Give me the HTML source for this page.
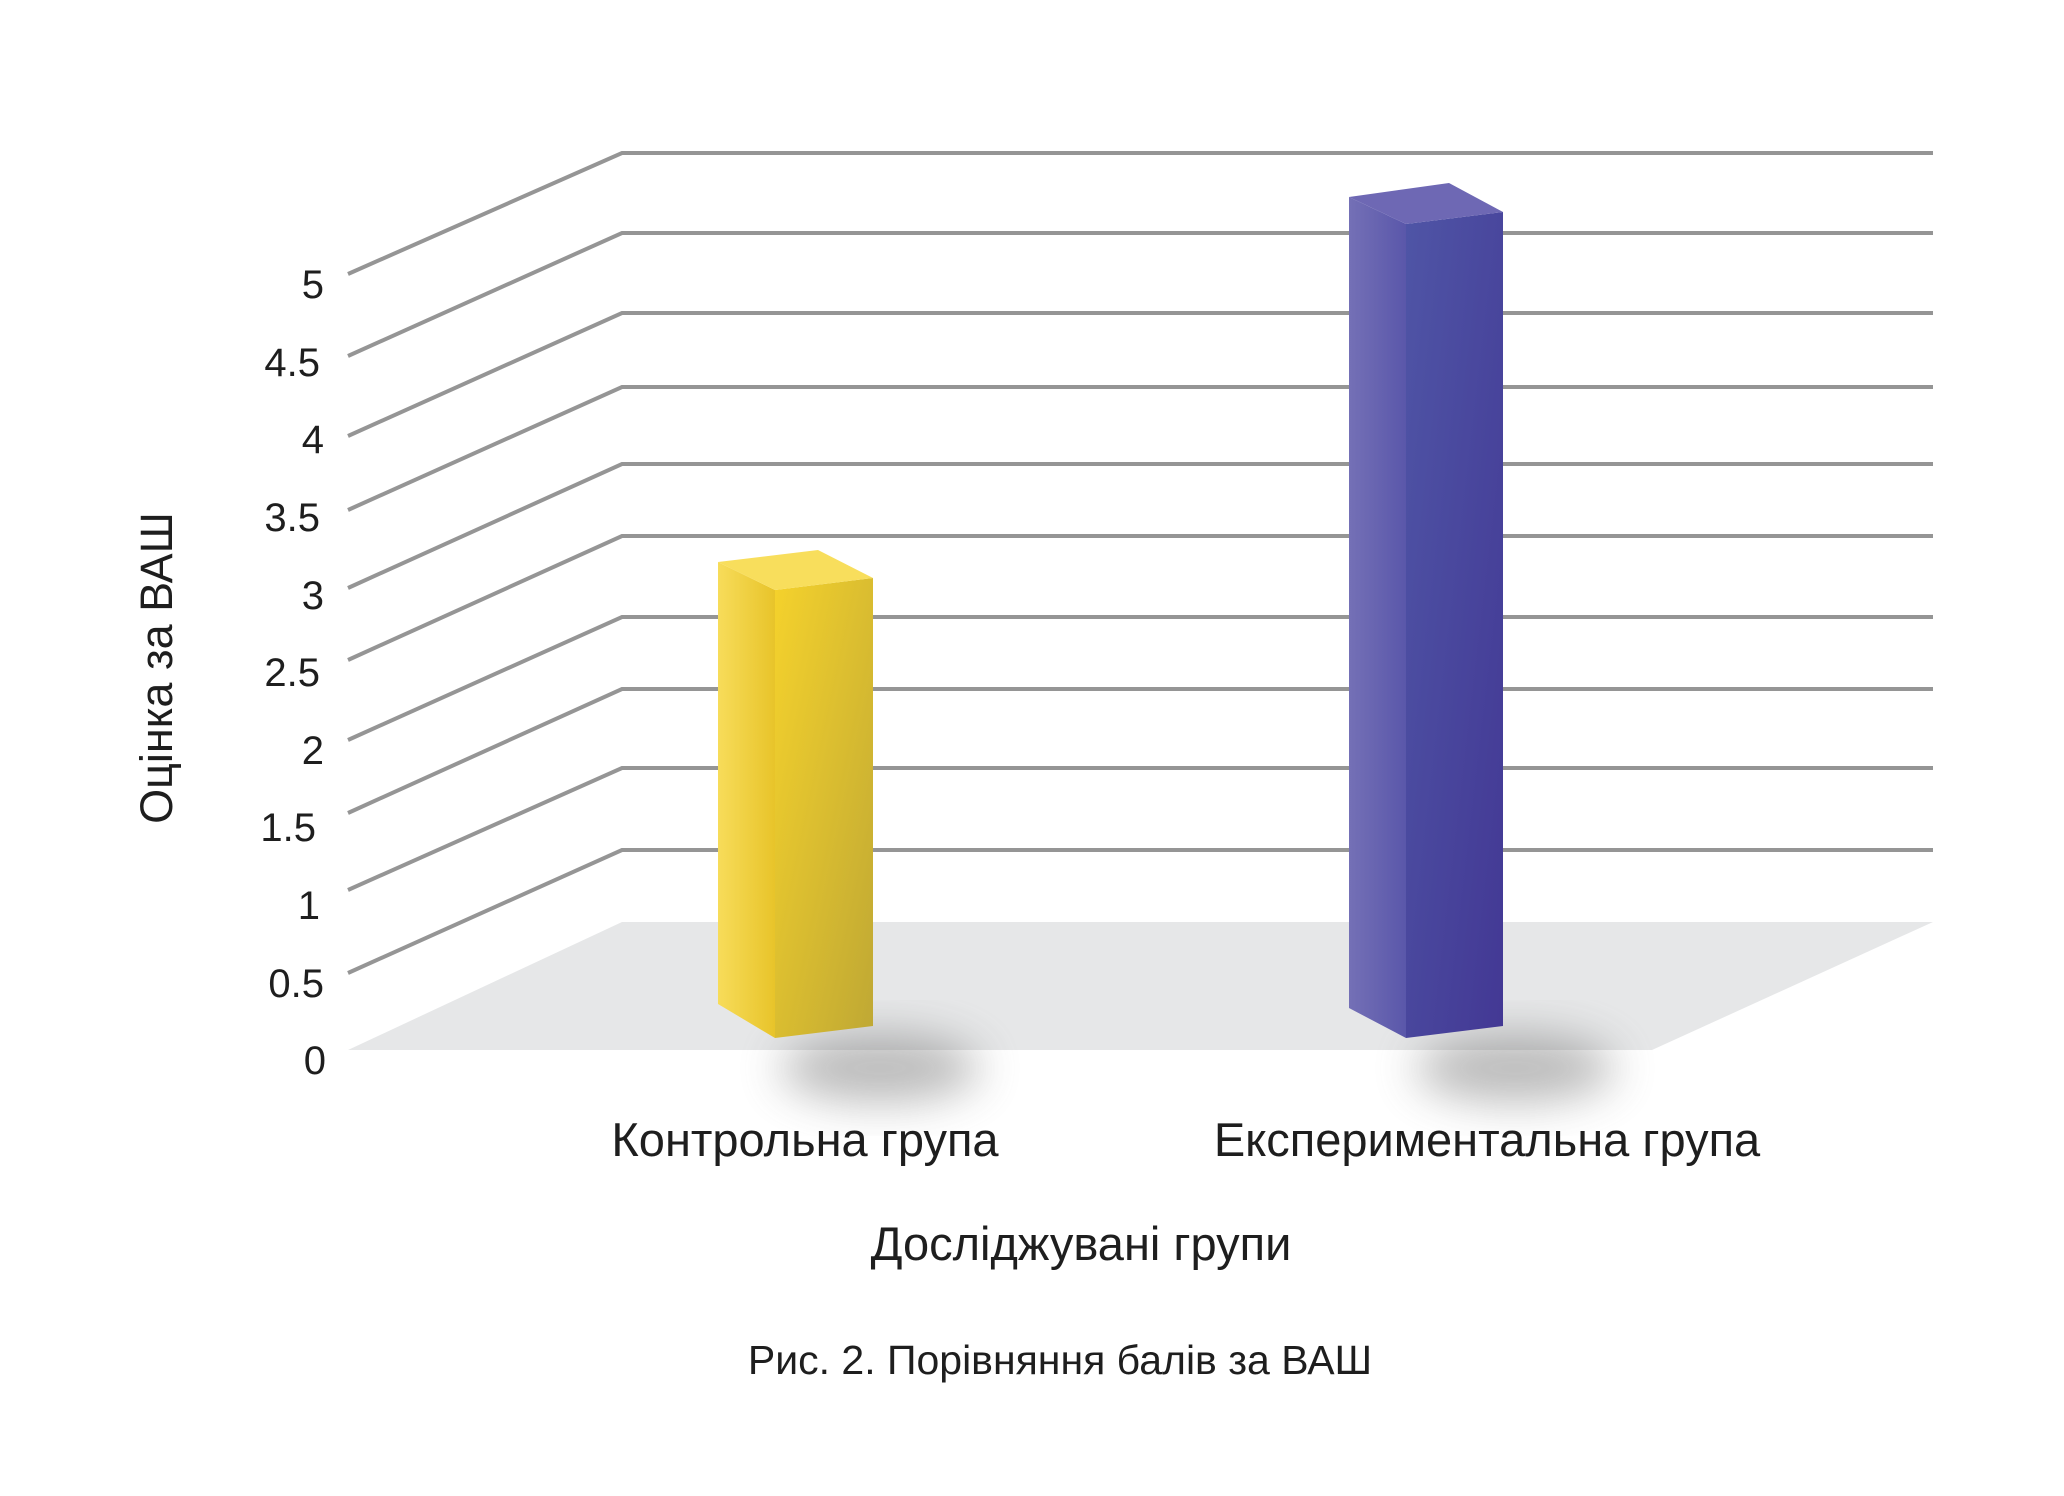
<!DOCTYPE html>
<html><head><meta charset="utf-8"><style>
html,body{margin:0;padding:0;background:#fff;}
svg{display:block;}
text{font-family:"Liberation Sans","DejaVu Sans",sans-serif;fill:#1e1e1e;}
</style></head><body>
<svg width="2064" height="1496" viewBox="0 0 2064 1496" xmlns="http://www.w3.org/2000/svg">
<defs>
<filter id="blur" x="-50%" y="-50%" width="200%" height="200%"><feGaussianBlur stdDeviation="22"/></filter>
<linearGradient id="yf" x1="0" y1="0" x2="1" y2="1"><stop offset="0" stop-color="#f5d22c"/><stop offset="1" stop-color="#bfa834"/></linearGradient>
<linearGradient id="ys" x1="0" y1="0" x2="1" y2="0"><stop offset="0" stop-color="#f7dc5a"/><stop offset="1" stop-color="#e8c42a"/></linearGradient>
<linearGradient id="pf" x1="0" y1="0" x2="1" y2="1"><stop offset="0" stop-color="#4f55a6"/><stop offset="1" stop-color="#433894"/></linearGradient>
<linearGradient id="ps" x1="0" y1="0" x2="1" y2="0"><stop offset="0" stop-color="#7470b6"/><stop offset="1" stop-color="#5a57aa"/></linearGradient>
</defs>
<polygon points="348,1050 622,922 1933,922 1652,1050" fill="#e6e7e8"/>
<g stroke="#959595" stroke-width="4" fill="none">
<polyline points="348,274 622,153 1933,153"/>
<polyline points="348,356 622,233 1933,233"/>
<polyline points="348,436 622,313 1933,313"/>
<polyline points="348,510 622,387 1933,387"/>
<polyline points="348,588 622,464 1933,464"/>
<polyline points="348,660 622,536 1933,536"/>
<polyline points="348,740 622,617 1933,617"/>
<polyline points="348,813 622,689 1933,689"/>
<polyline points="348,890 622,768 1933,768"/>
<polyline points="348,973 622,850 1933,850"/>
</g>
<ellipse cx="880" cy="1068" rx="100" ry="34" fill="#666" opacity="0.45" filter="url(#blur)"/>
<ellipse cx="1515" cy="1068" rx="100" ry="34" fill="#666" opacity="0.45" filter="url(#blur)"/>
<polygon points="718,562 775,590 775,1038 718,1004" fill="url(#ys)"/>
<polygon points="775,590 873,578 873,1026 775,1038" fill="url(#yf)"/>
<polygon points="718,562 818,550 873,578 775,590" fill="#f8de5c"/>
<polygon points="1349,197 1406,224 1406,1038 1349,1008" fill="url(#ps)"/>
<polygon points="1406,224 1503,212 1503,1026 1406,1038" fill="url(#pf)"/>
<polygon points="1349,197 1449,183 1503,212 1406,224" fill="#6e68b4"/>
<g font-size="40" text-anchor="end">
<text x="324" y="298">5</text>
<text x="320" y="376">4.5</text>
<text x="324" y="453">4</text>
<text x="320" y="531">3.5</text>
<text x="324" y="609">3</text>
<text x="320" y="686">2.5</text>
<text x="324" y="764">2</text>
<text x="316" y="841">1.5</text>
<text x="320" y="919">1</text>
<text x="324" y="997">0.5</text>
<text x="326" y="1074">0</text>
</g>
<text x="0" y="0" font-size="45" text-anchor="middle" transform="translate(172,668) rotate(-90)">Оцінка за ВАШ</text>
<text x="805" y="1156" font-size="47" text-anchor="middle">Контрольна група</text>
<text x="1487" y="1156" font-size="47" text-anchor="middle">Експериментальна група</text>
<text x="1081" y="1260" font-size="47" text-anchor="middle">Досліджувані групи</text>
<text x="1060" y="1374" font-size="41" text-anchor="middle">Рис. 2. Порівняння балів за ВАШ</text>
</svg>
</body></html>
